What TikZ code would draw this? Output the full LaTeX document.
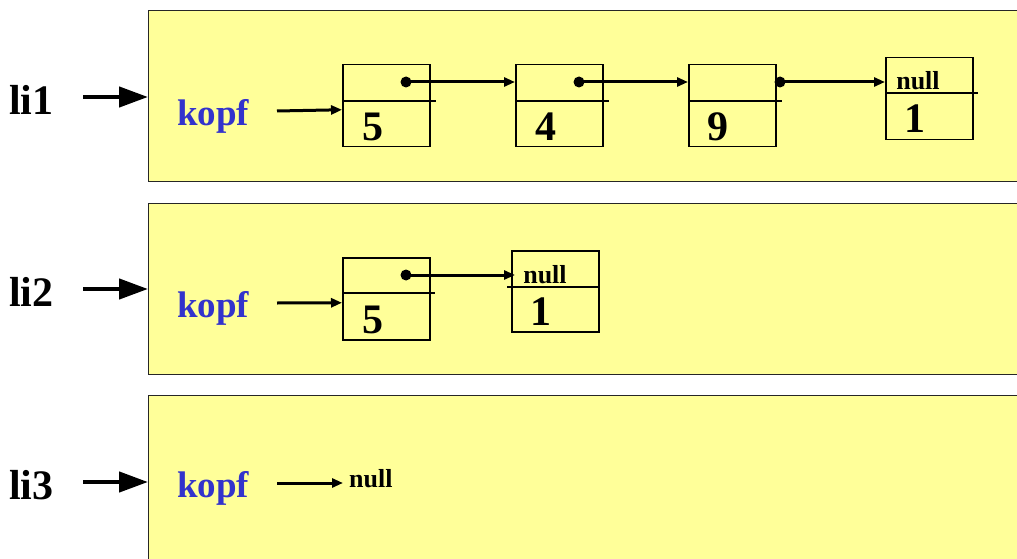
\documentclass[tikz,border=0pt]{standalone}
\usepackage{fontspec}
\setmainfont{Liberation Serif}
\usetikzlibrary{arrows.meta}

\newcommand{\libold}{\fontsize{42}{42}\selectfont\bfseries}
\newcommand{\kopfbold}{\fontsize{37}{37}\selectfont\bfseries}
\newcommand{\nullbold}{\fontsize{26}{26}\selectfont\bfseries}

\begin{document}
\begin{tikzpicture}[x=1pt, y=-1pt,
    panel/.style={draw=black!85, line width=1pt, fill=listyellow, anchor=north west,
        inner sep=0pt, minimum width=900pt, minimum height=171pt},
    cell/.style={draw=black, line width=1.5pt, anchor=north west, inner sep=0pt,
        minimum width=87pt, minimum height=82pt},
    txt/.style={inner sep=0pt, anchor=base west},
    val/.style={inner sep=0pt, anchor=base, font=\libold},
    bigarrow/.style={line width=4.5pt, -{Triangle[length=29pt,width=20pt]}},
    ptr/.style={line width=3pt, -{Triangle[length=11pt,width=9pt]}},
    dot/.style={circle, fill=black, inner sep=0pt, minimum size=11pt}]
    % Define colors
    \definecolor{listyellow}{RGB}{255, 255, 153}
    \definecolor{kopfblue}{RGB}{51, 51, 204}

    \useasboundingbox (0,0) rectangle (1017,559);
    \clip (0,0) rectangle (1017,559);

    % Draw the three list objects
    \node[panel] (p1) at (148,10) {};
    \node[panel] (p2) at (148,203) {};
    \node[panel] (p3) at (148,395) {};

    % Variables pointing at the lists
    \node[txt, font=\libold] (li1) at (9,115) {li1};
    \node[txt, font=\libold] (li2) at (9,306) {li2};
    \node[txt, font=\libold] (li3) at (9,499) {li3};
    \coordinate (s1) at (83,97);
    \coordinate (s2) at (83,289);
    \coordinate (s3) at (83,482);
    \foreach \i in {1,2,3} {
        \draw[bigarrow] (s\i) -- (s\i -| p\i.west);
    }

    % Head labels
    \node[txt, font=\kopfbold, text=kopfblue] (h1) at (177,125) {kopf};
    \node[txt, font=\kopfbold, text=kopfblue] (h2) at (177,317) {kopf};
    \node[txt, font=\kopfbold, text=kopfblue] (h3) at (177,497) {kopf};

    % First list: 5 -> 4 -> 9 -> 1
    \node[cell] (a1) at (342,64) {};
    \node[cell] (a2) at (515,64) {};
    \node[cell] (a3) at (688,64) {};
    \node[cell] (a4) at (885,57) {};
    \foreach \c in {a1,a2,a3} {
        \draw[line width=1.5pt] ([yshift=-37pt]\c.north west) -- ([xshift=5pt,yshift=-37pt]\c.north east);
    }
    \draw[line width=1.5pt] ([yshift=-36pt]a4.north west) -- ([xshift=4pt,yshift=-36pt]a4.north east);

    \node[val] (v1) at (373,140) {5};
    \node[val] (v2) at (546,140) {4};
    \node[val] (v3) at (718,140) {9};
    \node[val] (v4) at (915,133) {1};
    \node[inner sep=0pt, anchor=base, font=\nullbold] (n1) at (918,90) {null};

    \node[dot] (d1) at (406,82) {};
    \node[dot] (d2) at (579,82) {};
    \node[dot] (d3) at (780,82) {};

    \coordinate (k1) at (277,111);
    \draw[ptr] (k1) -- ([yshift=-4pt]a1.west);
    \draw[ptr] (d1.center) -- (d1.center -| a2.west);
    \draw[ptr] (d2.center) -- (d2.center -| a3.west);
    \draw[ptr] (d3.center) -- (d3.center -| a4.west);

    % Second list: 5 -> 1
    \node[cell] (b1) at (342,257) {};
    \node[cell, minimum height=81pt] (b2) at (511,250) {};
    \draw[line width=1.5pt] ([yshift=-36pt]b1.north west) -- ([xshift=4pt,yshift=-36pt]b1.north east);
    \draw[line width=1.5pt] ([xshift=-4pt,yshift=-37pt]b2.north west) -- ([yshift=-37pt]b2.north east);

    \node[val] (w1) at (373,333) {5};
    \node[val] (w2) at (541,325) {1};
    \node[inner sep=0pt, anchor=base, font=\nullbold] (n2) at (545,283) {null};

    \node[dot] (e1) at (406,275) {};

    \coordinate (k2) at (277,303);
    \draw[ptr] (k2) -- ([yshift=-4pt]b1.west);
    \draw[ptr] (e1.center) -- ([xshift=4pt]e1.center -| b2.west);

    % Third list: empty
    \node[txt, font=\nullbold] (n3) at (349,487) {null};
    \coordinate (k3) at (277,483);
    \draw[ptr] (k3) -- ([xshift=-6pt]k3 -| n3.west);
\end{tikzpicture}
\end{document}
